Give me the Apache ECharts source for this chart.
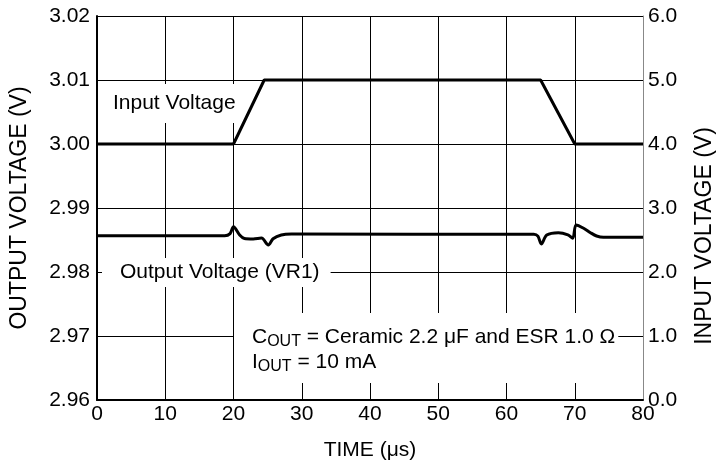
<!DOCTYPE html>
<html>
<head>
<meta charset="utf-8">
<script src="https://cdn.jsdelivr.net/npm/echarts@6/dist/echarts.min.js"></script>
<style>
  html, body { margin: 0; padding: 0; background: #fff; }
  #chart { width: 718px; height: 474px; }
</style>
</head>
<body>
<div id="chart"></div>
<script>
// time ticks (us)
const timeTicks = [0, 10, 20, 30, 40, 50, 60, 70, 80];
// input voltage (V), right axis
const inputTime = [0, 20, 24.5, 65, 70, 80];
const inputVolt = [4.0, 4.0, 5.0, 5.0, 4.0, 4.0];
// output voltage (V), left axis
const outputTime = [0, 18.7, 19.5, 20.0, 20.9, 21.6, 22.9, 24.1, 25.1, 25.8, 27.0, 28.5,
  64.0, 64.6, 65.1, 65.9, 67.6, 69.0, 69.7, 70.2, 71.3, 72.3, 73.2, 74.2, 80];
const outputVolt = [2.98565, 2.98567, 2.98600, 2.98708, 2.98578, 2.98523, 2.98516, 2.98530, 2.98422, 2.98520, 2.98578, 2.98592,
  2.98590, 2.98560, 2.98438, 2.98578, 2.98614, 2.98580, 2.98527, 2.98734, 2.98683, 2.98614, 2.98563, 2.98542, 2.98542];

const font = 'Liberation Sans, Arial, sans-serif';
const chartEle = document.getElementById('chart');
const myChart = echarts.init(chartEle);

const option = {
  animation: false,
  backgroundColor: '#fff',
  grid: { left: 95, right: 75, top: 16, bottom: 74 },
  xAxis: {
    type: 'value',
    min: timeTicks[0],
    max: timeTicks[timeTicks.length - 1],
    interval: 10,
    name: 'TIME (μs)',
    nameLocation: 'middle',
    nameGap: 40,
    nameTextStyle: { fontFamily: font, fontSize: 21, color: '#000' },
    axisLine: { lineStyle: { color: '#000', width: 2 } },
    axisTick: { show: false },
    axisLabel: { fontFamily: font, fontSize: 21, color: '#000', margin: 4 },
    splitLine: { show: true, lineStyle: { color: '#000', width: 1 } }
  },
  yAxis: [
    {
      type: 'value',
      min: 2.96,
      max: 3.02,
      interval: 0.01,
      name: 'OUTPUT VOLTAGE (V)',
      nameLocation: 'middle',
      nameGap: 66,
      nameTextStyle: { fontFamily: font, fontSize: 23, color: '#000' },
      axisLine: { show: true, lineStyle: { color: '#000', width: 2 } },
      axisTick: { show: false },
      axisLabel: {
        fontFamily: font, fontSize: 21, color: '#000', margin: 7,
        formatter: v => v.toFixed(2)
      },
      splitLine: { show: true, lineStyle: { color: '#000', width: 1 } }
    },
    {
      type: 'value',
      position: 'right',
      min: 0,
      max: 6,
      interval: 1,
      axisLine: { show: true, lineStyle: { color: '#888', width: 1 } },
      axisTick: { show: false },
      axisLabel: {
        fontFamily: font, fontSize: 21, color: '#000', margin: 5,
        formatter: v => v.toFixed(1)
      },
      splitLine: { show: false }
    }
  ],
  series: [
    {
      name: 'Input Voltage',
      type: 'line',
      yAxisIndex: 1,
      symbol: 'none',
      lineStyle: { color: '#000', width: 3 },
      data: inputTime.map((t, i) => [t, inputVolt[i]]),
      z: 3
    },
    {
      name: 'Output Voltage (VR1)',
      type: 'line',
      yAxisIndex: 0,
      symbol: 'none',
      smooth: 0.3,
      lineStyle: { color: '#000', width: 3 },
      data: outputTime.map((t, i) => [t, outputVolt[i]]),
      z: 3
    }
  ],
  graphic: [
    {
      type: 'text',
      rotation: Math.PI / 2,
      x: 705,
      y: 236,
      style: {
        text: 'INPUT VOLTAGE (V)', fontFamily: font, fontSize: 23, fill: '#000',
        align: 'center', verticalAlign: 'middle'
      }
    },
    {
      type: 'text',
      left: 103,
      top: 84,
      z: 10,
      style: {
        text: 'Input Voltage', fontFamily: font, fontSize: 21, fill: '#000',
        backgroundColor: '#fff', padding: [9, 3, 9, 10]
      }
    },
    {
      type: 'text',
      left: 102,
      top: 258,
      z: 10,
      style: {
        text: 'Output Voltage (VR1)', fontFamily: font, fontSize: 21, fill: '#000',
        backgroundColor: '#fff', padding: [4, 11, 4, 18]
      }
    },
    {
      type: 'text',
      left: 234,
      top: 313,
      z: 10,
      style: {
        text: '{n|C}{s|OUT}{n| = Ceramic 2.2 μF and ESR 1.0 Ω}\n{n|I}{s|OUT}{n| = 10 mA}',
        fontFamily: font,
        fill: '#000',
        backgroundColor: '#fff',
        padding: [12, 3, 8, 18],
        rich: {
          n: { fontFamily: font, fontSize: 21, lineHeight: 25, fill: '#000' },
          s: { fontFamily: font, fontSize: 16, lineHeight: 12, verticalAlign: 'bottom', fill: '#000' }
        }
      }
    }
  ]
};

myChart.setOption(option);
</script>
</body>
</html>
